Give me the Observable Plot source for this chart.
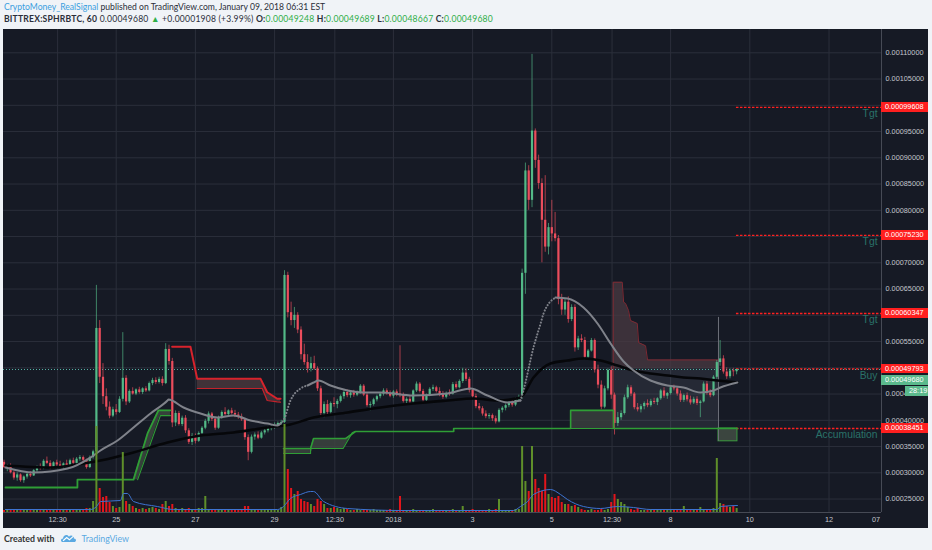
<!DOCTYPE html>
<html><head><meta charset="utf-8">
<script src="https://cdn.jsdelivr.net/npm/d3@7"></script>
<script src="https://cdn.jsdelivr.net/npm/@observablehq/plot@0.6"></script>
<style>
html,body{margin:0;padding:0}
body{background:#f0f3f7;width:932px;height:550px;overflow:hidden;position:relative;font-family:Lato,"Liberation Sans",sans-serif;color:#2a2e39}
#h1{position:absolute;left:4px;top:2px;font-size:8.6px;white-space:nowrap}
#h2{position:absolute;left:4px;top:13.5px;font-size:8.6px;letter-spacing:0.2px;white-space:nowrap}
#h2 b{font-weight:700}
.g{color:#2fae48}
#chart{position:absolute;left:3px;top:29px;width:925px;height:499px;background:#161a25;overflow:hidden}
#chart svg{position:absolute;left:0;top:0}
.bx{position:absolute;height:9.7px;line-height:9.7px;font:7.3px "Liberation Sans",Arial,sans-serif;color:#fff;padding-left:4px;box-sizing:border-box;white-space:nowrap}
#ft{position:absolute;left:4px;top:532.5px;font-size:8.8px;white-space:nowrap;display:flex;align-items:center}
</style></head>
<body>
<div id="h1"><span style="color:#3b9fe0">CryptoMoney_RealSignal</span> published on TradingView.com, January 09, 2018 06:31 EST</div>
<div id="h2"><b>BITTREX:SPHRBTC, 60</b> 0.00049680 <span class="g">▲</span> +0.00001908 (+3.99%) <b>O:</b><span class="g">0.00049248</span> <b>H:</b><span class="g">0.00049689</span> <b>L:</b><span class="g">0.00048667</span> <b>C:</b><span class="g">0.00049680</span></div>
<div id="chart"></div>
<div id="ft"><b style="color:#333">Created with</b>
<svg width="17" height="10" viewBox="0 0 18 11" style="margin:0 4px 0 6px"><path d="M3 10 C0 10 0 6 3 6 C3 2 8 1 9.5 4 C11 2 15 2.5 15 6 C18 6 18 10 15 10 Z" fill="#5aa9e2"/><path d="M3 8.5 L7 5 L10 7.5 L14.5 3.5" stroke="#fff" stroke-width="1.3" fill="none"/></svg>
<span style="color:#5aa9e2">TradingView</span></div>
<script>
// ---------------- data (prices in satoshi = 1e-8 BTC, time in hours from Dec 22 00:00) ----------------
const startHour = 4, stepHours = 2;
const ohlc = [
[32000,32400,30800,31000],[31000,31600,30200,31400],[31400,31700,29800,30000],[30000,30300,28600,29000],
[29000,30000,28400,29600],[29600,29800,28200,28500],[28500,29400,28000,29200],[29200,29900,28800,29700],
[29700,30200,29100,29400],[29400,30600,29300,30400],[30400,31300,30100,31000],[31000,31700,30500,30800],
[30800,32500,30600,32200],[32200,33000,31600,31800],[31800,32300,30600,31000],[31000,32100,30800,31900],
[31900,32400,31200,31500],[31500,32200,30900,31100],[31100,31900,30700,31700],[31700,32400,31300,31400],
[31400,32600,31200,32300],[32300,32800,31600,31800],[31800,32900,31600,32600],[32600,33300,32200,32900],
[32900,33200,32000,32400],[32400,32600,30700,31000],[31000,33200,30800,32900],[32900,34300,32600,34000],
[34000,65700,33800,57500],[57500,59000,47000,48200],[48200,50800,43000,44500],[44500,46000,41800,42500],
[42500,43500,40300,40800],[40800,42500,40500,42000],[42000,43000,41000,41500],[41500,44500,41300,44000],
[44000,56700,43500,48000],[48000,48500,42800,43500],[43500,45800,43200,45500],[45500,46200,44800,45000],
[45000,46000,44700,45800],[45800,46300,45000,45300],[45300,46200,44900,46000],[46000,46400,45300,45600],
[45600,47300,45400,47000],[47000,48000,46600,47600],[47600,48100,46800,47200],[47200,48200,46900,47800],
[47800,48300,46500,47000],[47000,54600,46800,53500],[53500,54300,50500,51200],[51200,51800,38600,39500],
[39500,41800,38800,41300],[41300,41700,38900,39200],[39200,40800,38800,40400],[40400,40900,37500,38000],
[38000,38400,35400,35800],[35800,37500,35200,37000],[37000,37400,35500,36000],[36000,37800,35800,37500],
[37500,38800,37200,38500],[38500,40200,38200,39800],[39800,41600,39300,41200],[41200,41500,39800,40200],
[40200,40600,38100,38500],[38500,40800,38300,40500],[40500,41800,40200,41500],[41500,42400,40800,41100],
[41100,42000,40700,41800],[41800,42300,41000,41300],[41300,41900,40500,41000],[41000,41500,40200,40600],
[40600,41200,39800,40100],[40100,40400,36200,36700],[36700,37200,32300,33900],[33900,37200,33600,36800],
[36800,37600,36200,37200],[37200,37800,36300,36600],[36600,37900,36400,37600],[37600,38400,37200,38000],
[38000,38800,37600,38400],[38400,39000,38000,38700],[38700,39500,38300,39000],[39000,39700,38600,39400],
[39400,40000,38900,39600],[39600,68500,39400,67600],[67600,68200,59500,60500],[60500,62500,58000,59000],
[59000,61500,57500,60000],[60000,60500,56500,57200],[57200,57800,51500,52500],[52500,54500,50500,51000],
[51000,52500,49000,49800],[49800,52000,49200,50800],[50800,52200,49500,49800],[49800,50200,45500,46000],
[46000,46500,40500,41300],[41300,43500,40500,43000],[43000,43800,41000,41500],[41500,43500,41200,43200],
[43200,44300,42500,43000],[43000,44000,42200,43600],[43600,44800,43300,44500],[44500,45600,44000,45300],
[45300,45800,44300,44700],[44700,45500,44200,45200],[45200,45700,44400,44800],[44800,45600,44500,45300],
[45300,46800,45000,46500],[46500,46800,44500,44800],[44800,45200,42500,42800],[42800,43500,41800,43000],
[43000,44200,42700,43900],[43900,44800,43500,44500],[44500,45300,44100,45000],[45000,46000,44600,45600],
[45600,46000,44800,45100],[45100,45600,44300,44600],[44600,45700,44200,45400],[45400,45800,44500,45000],
[45000,54200,44300,44700],[44700,45200,43300,43600],[43600,44300,43000,44000],[44000,44500,43200,43500],
[43500,45800,43300,45600],[45600,47300,45300,46900],[46900,47200,45200,45500],[45500,45900,43400,43800],
[43800,45000,43500,44800],[44800,46200,44500,45900],[45900,46700,45500,46200],[46200,46500,45200,45500],
[45500,46200,44500,44900],[44900,45500,44000,44400],[44400,45400,44100,45100],[45100,45800,44600,45000],
[45000,47200,44800,46800],[46800,47300,45900,46200],[46200,47700,46000,47400],[47400,49900,47000,49000],
[49000,49800,47400,47800],[47800,48200,45200,45700],[45700,46000,44200,44500],[44500,45000,42200,42600],
[42600,43200,41800,42200],[42200,42600,40800,41200],[41200,41800,40300,40700],[40700,41300,40200,40900],
[40900,41200,39800,40300],[40300,40800,39300,39700],[39700,42200,39500,41900],[41900,42600,41400,42300],
[42300,43100,41800,42800],[42800,43600,42400,43300],[43300,43800,42500,42900],[42900,44300,42600,43900],
[43900,44800,43500,44400],[44400,68800,44000,68000],[68000,89000,64000,87500],[87500,88500,80000,81900],
[81900,109700,80500,95100],[95100,95500,88000,89500],[89500,90500,84000,85100],[85100,86000,70000,78100],
[78100,86600,72000,73000],[73000,77500,71500,76700],[76700,81900,74000,75500],[75500,79600,74000,74600],
[74600,75200,62000,63000],[63000,64000,60000,61000],[61000,63000,60000,62500],[62500,63500,58500,59200],
[59200,62000,58800,61500],[61500,62000,53000,53800],[53800,56000,53300,55500],[55500,56300,54800,55200],
[55200,55800,51500,52000],[52000,53500,51500,53200],[53200,55600,53000,55200],[55200,55500,49000,49600],
[49600,50500,46000,46700],[46700,47500,42000,42500],[42500,46500,42200,46000],[46000,49800,45600,49500],
[49500,50200,44000,44800],[44800,45200,37200,39400],[39400,41500,38800,40500],[40500,41800,40000,41300],
[41300,44800,41000,44300],[44300,46700,44000,46200],[46200,46600,44500,45000],[45000,45300,42000,42400],
[42400,43200,41600,42000],[42000,43000,41400,42600],[42600,43500,42000,43200],[43200,43900,42400,42800],
[42800,44000,42500,43600],[43600,44200,43000,43400],[43400,44300,42800,44100],[44100,45900,43800,45600],
[45600,46200,44200,44600],[44600,45300,44000,45100],[45100,46500,44800,46200],[46200,46700,45600,46000],
[46000,46300,44600,45000],[45000,45600,43400,43800],[43800,45000,43400,44700],[44700,45200,43500,43900],
[43900,44600,42900,43300],[43300,44400,43000,44000],[44000,44500,42800,43200],[43200,43800,40500,43500],
[43500,47300,43300,46900],[46900,47400,44800,45200],[45200,45800,44300,44700],[44700,48500,44500,48200],
[48200,51400,47800,51000],[51000,55200,50300,51700],[51700,52300,48800,49200],[49200,50000,47800,48300],
[48300,49800,47900,49400],[49400,49900,48300,49248],[49248,49689,48667,49680]
];
// volume (BTC) per candle
const volume = [
1,1.5,1,1,1.5,1,1,1,1.5,1,1,1,1.5,1,1,1,1,1.5,1,1,1,1.5,1,1,1.5,2,2,
5.5,43,12,7.5,8,5,3,2,2.5,30,5.5,4,3,
2,1.5,2,1.5,2,2.5,2,1.5,
4,5.5,3,4,
2,1.5,2,1.5,2,1.5,1.5,2,
2,8,
1,1,1.5,1,1,1,1.5,1,1,1,1,
3,3,
1.5,1,1,1,1,1,1.5,1,1,
2.5,
44,21.5,12,9,10.5,6.5,5.5,5,4,3,6.5,5.5,4,
2,2,2.5,2,1.5,2,1.5,
1,1,1.5,1,1,1,1,1.5,1,1,1,1,1.5,1,1,
8,
1,1,1,1.5,1,1,1,1,1,1.5,1,1,1,1,1,1.5,1,1,
3,
1,1,1.5,1,1,1,1,1.5,1,
1.5,6.5,
1,1,1,1,1.5,1.5,
33,15.5,10.5,33,16.5,12,10.5,19,9,7.5,7,8,5,4,4,3,3.5,2.5,
1.5,1,1,1.5,1,1,1.5,1,
1.5,5,9,6.5,5,4,2.5,
1.5,1,2,1,1,1,1.5,1,1,1.5,1,1,1,1,1.5,1,
3,
1,1,1,1,
2.5,
1.5,1,1,
2,
27,4.5,4,3,2.5,3,2
];
const volumeMA = [[4.9,1.5],[56.4,1.5],[60.1,3],[62.5,5.5],[74.6,6],[76.4,9.5],[78.8,9.5],[82.5,5.5],[97.0,3],[106.7,1.5],
[169.8,1.5],[173.4,3],[177.6,7],[183.7,9],[189.8,10.5],[191.6,10.5],[197.7,5.5],[212.2,2],[244.3,1],[312.8,1],[317.0,3],
[321.3,5.5],[324.9,9],[335.2,11.5],[341.3,9],[345.5,6.5],[355.2,3],[365.5,2],[375.8,3],[385.5,2.5],[395.8,1.5],[436.4,1.5],[438.2,3],[448.5,3.5]];
// grey moving average (solid parts and dotted parts)
const maGray1 = [[4.9,31010],[21.9,30050],[42.5,30810],[56.4,32910],[62.5,34250],[72.8,36150],[82.5,38630],[92.8,41300],[103.1,43770],[103.7,43960],
[112.8,42440],[123.1,41300],[133.4,40530],[143.1,40920],[153.4,39960],[163.7,39390],[169.8,39010],[171.6,39390]];
const maGrayDots1 = [[171.6,39390],[173.4,39960],[177.6,43770],[183.7,46060],[188.0,46630]];
const maGray2 = [[188.0,46630],[191.6,47200],[194.6,47580],[201.9,46630],[212.2,45680],[221.9,45300],[232.2,45300],[252.2,44730],
[272.8,45110],[286.7,46060],[297.0,44730],[309.2,43390],[317.0,43770]];
const maGrayDots2 = [[317.0,43770],[318.8,45680],[324.9,53870],[329.2,58440],[331.0,60340],[338.2,63390]];
const maGray3 = [[338.2,63390],[345.5,63200],[355.2,61490],[363.7,58440],[371.6,54630],[379.5,51200],[385.5,49490],[395.8,47580],
[406.1,46630],[415.8,46250],[426.1,45300],[434.0,45680],[438.2,46250],[448.5,47200]];
// black moving average
const maBlack = [[4.9,31390],[32.2,31010],[52.2,31770],[62.5,32340],[82.5,33870],[103.1,35770],[123.1,37090],[143.1,37680],[163.7,38630],
[177.6,39200],[191.6,40530],[212.2,41490],[232.2,42440],[252.2,43200],[272.8,43770],[288.5,44150],[303.1,43770],[317.0,44340],
[324.9,48150],[335.2,50820],[345.5,51390],[355.2,51770],[365.5,51390],[375.8,50440],[385.5,49490],[395.8,48920],[406.1,48540],
[415.8,48150],[426.1,47960],[436.4,47580],[448.5,47200]];
// resistance (red) and support (green) channels
const res1Upper = [[105.9,54000],[117.0,54000],[121.1,47900],[159.5,47900],[163.5,45350],[169.6,44100],[171.6,44100]];
const res1Lower = [[121.1,46060],[160.5,46060],[163.5,43770],[169.6,43500],[171.6,43450]];
const res1Band = [[121.1,47900,46060],[159.5,47900,46060],[160.5,47200,46060],[163.5,45350,43770],[169.6,44100,43500],[171.6,44100,43450]];
const sup1Upper = [[4.9,27200],[48.5,27200],[48.5,28700],[82.5,28700],[91.0,37500],[97.6,41900],[104.9,41900]];
const sup1Lower = [[85.0,28700],[98.8,40900],[104.9,40900]];
const sup1Band = [[82.5,28700,28700],[85.0,31300,28700],[91.0,37500,34000],[97.6,41900,40000],[98.8,41900,40900],[104.9,41900,40900]];
const sup2Upper = [[173.4,34630],[189.8,34630],[191.6,36530],[211.0,36530],[217.0,37870],[276.5,37870],[276.5,38451],[347.4,38451],
[347.4,41900],[373.4,41900],[373.4,38451],[448.5,38451]];
const sup2Lower = [[173.4,33680],[189.8,33680],[189.8,34630],[209.5,34630],[215.2,37680],[217.0,37870],[276.5,37870],[276.5,38451],[448.5,38451]];
const sup2BandA = [[173.4,34630,33680],[189.8,34630,33680],[191.6,36530,34630],[209.5,36530,34630],[211.0,36530,35400],[215.2,37500,37680]];
const sup2BandB = [[347.4,41900,38451],[373.4,41900,38451]];
const res2Top = [[373.2,38451],[373.2,66300],[378.7,66300],[379.5,62500],[380.7,62250],[382.5,60900],[383.7,59000],[387.8,58440],
[388.6,54800],[392.8,54200],[394.0,51500],[437.0,51500]];
const res2Floor = 49800;
const rangeBox = {t1:373.2, t2:437.0, top:49800, bottom:38451};
const accBox = {t1:437.0, t2:448.5, top:38451, bottom:36000};
const boxEdge = {t:437.0, lo:36000, hi:59600};
// horizontal levels
const levels = [
  {price:99608, label:"Tgt"}, {price:75230, label:"Tgt"}, {price:60347, label:"Tgt"},
  {price:49793, label:"Buy"}, {price:38451, label:"Accumulation"}
];
const targetFromHour = 447.9;
const countdown = "28:19";
// axes
const timeTicks = [36.5, 72, 120, 168, 204.5, 240, 288, 336, 372.5, 408, 456, 504, 532.5];
const timeLabels = ["12:30","25","27","29","12:30","2018","3","5","12:30","8","10","12","07"];
const priceTicks = [25000,30000,35000,40000,45000,50000,55000,60000,65000,70000,75000,80000,85000,90000,95000,100000,105000,110000];
const priceTicksCovered = [50000,60000,75000,100000]; // labels hidden behind the level tags
const xDomain = [3.7, 535.8];
const yDomain = [22440, 114440];

// ---------------- drawing ----------------
const UP = "#53b987", DN = "#eb4d5c", VUP = "#5f8f2a", VDN = "#e3151b";
const P = v => v / 1e8;
const W = 925, H = 499, MR = 47, MB = 16;
const candles = ohlc.map(([o,h,l,c], i) => ({t: startHour + i*stepHours, o:P(o), h:P(h), l:P(l), c:P(c), up: c >= o}));
const pts = a => a.map(([t,p]) => ({t, p:P(p)}));
const band = a => a.map(([t,hi,lo]) => ({t, hi:P(hi), lo:P(lo)}));
const labelOf = new Map(timeTicks.map((t,i) => [t, timeLabels[i]]));
const lastClose = P(ohlc[ohlc.length-1][3]);
const axisTicks = priceTicks.filter(v => !priceTicksCovered.includes(v)).map(P);

const gray = {x:"t", y:"p", stroke:"#7f828a", strokeWidth:2, curve:"monotone-x"};
const dotted = {...gray, strokeDasharray:"0.1,3", strokeLinecap:"round", strokeWidth:2.1};

const main = Plot.plot({
  width: W, height: H, marginTop: 0, marginLeft: 0, marginRight: MR, marginBottom: MB,
  style: {background:"transparent", color:"#c3c6cd", fontFamily:"'Liberation Sans', Arial, sans-serif", fontSize:"7.3px", overflow:"visible"},
  x: {domain: xDomain, axis: null},
  y: {domain: yDomain.map(P), axis: null},
  marks: [
    Plot.gridY(priceTicks.map(P), {stroke:"#2b2f3b", strokeOpacity:1}),
    Plot.gridX(timeTicks.slice(0,-1), {stroke:"#2b2f3b", strokeOpacity:1}),
    Plot.ruleX([xDomain[1]], {stroke:"#464a55"}),
    Plot.ruleY([P(yDomain[0])], {stroke:"#464a55"}),
    Plot.axisX(timeTicks, {tickSize:0, tickPadding:4, tickFormat: d => labelOf.get(d), fill:"#c3c6cd", label:null}),
    Plot.axisY(axisTicks, {anchor:"right", tickSize:0, tickPadding:4, tickFormat: d => d.toFixed(8), fill:"#c3c6cd", label:null}),
    // fills
    Plot.areaY(band(res1Band), {x:"t", y1:"lo", y2:"hi", fill:"#45353b", fillOpacity:0.9}),
    Plot.areaY(band(sup1Band), {x:"t", y1:"lo", y2:"hi", fill:"#3e4a41", fillOpacity:0.8}),
    Plot.areaY(band(sup2BandA), {x:"t", y1:"lo", y2:"hi", fill:"#3e4641", fillOpacity:0.8}),
    Plot.areaY(band(sup2BandB), {x:"t", y1:"lo", y2:"hi", fill:"#3b403f", fillOpacity:0.8}),
    Plot.areaY(pts(res2Top).slice(1), {x:"t", y1:P(res2Floor), y2:"p", fill:"#4a3a42", fillOpacity:0.75}),
    Plot.rect([rangeBox], {x1:"t1", x2:"t2", y1: d=>P(d.bottom), y2: d=>P(d.top), fill:"#8e94a0", fillOpacity:0.13}),
    Plot.rect([accBox], {x1:"t1", x2:"t2", y1: d=>P(d.bottom), y2: d=>P(d.top), fill:"#3f4a42", fillOpacity:0.9, stroke:"#3a9a3e", strokeWidth:1}),
    Plot.line(pts(res2Top), {x:"t", y:"p", stroke:"#7e2a33", strokeWidth:1}),
    Plot.ruleX([boxEdge], {x:"t", y1: d=>P(d.lo), y2: d=>P(d.hi), stroke:"#6d717a", strokeWidth:1}),
    // price line & targets
    Plot.ruleY([lastClose], {stroke:"#56b3a5", strokeDasharray:"1,2", strokeWidth:1}),
    Plot.ruleY(levels, {y: d=>P(d.price), x1: targetFromHour, x2: xDomain[1], stroke:"#ff2020", strokeDasharray:"2.5,1.5", strokeWidth:1.4}),
    Plot.text(levels, {x: xDomain[1], y: d=>P(d.price), text:"label", textAnchor:"end", dx:-4, dy:6.5, fill:"#2a7269", fontSize:10.3, fontFamily:"'Liberation Sans', Arial, sans-serif"}),
    // candles
    Plot.ruleX(candles, {x:"t", y1:"l", y2:"h", stroke: d => d.up ? UP : DN, strokeWidth:0.8, strokeOpacity:0.85}),
    Plot.ruleX(candles, {x:"t", y1:"o", y2:"c", stroke: d => d.up ? UP : DN, strokeWidth:2.2}),
    // channels
    Plot.line(pts(sup1Upper), {x:"t", y:"p", stroke:"#2f9e36", strokeWidth:1.8}),
    Plot.line(pts(sup1Lower), {x:"t", y:"p", stroke:"#2f9e36", strokeWidth:1.1}),
    Plot.line(pts(sup2Upper), {x:"t", y:"p", stroke:"#2f9e36", strokeWidth:1.6}),
    Plot.line(pts(sup2Lower), {x:"t", y:"p", stroke:"#2f9e36", strokeWidth:1.1}),
    Plot.line(pts(res1Upper), {x:"t", y:"p", stroke:"#d8232c", strokeWidth:2}),
    Plot.line(pts(res1Lower), {x:"t", y:"p", stroke:"#c4222b", strokeWidth:1.2}),
    // moving averages
    Plot.line(pts(maBlack), {x:"t", y:"p", stroke:"#06070a", strokeWidth:2.6, curve:"monotone-x"}),
    Plot.line(pts(maGray1), gray),
    Plot.line(pts(maGray2), gray),
    Plot.line(pts(maGray3), gray),
    Plot.line(pts(maGrayDots1), dotted),
    Plot.line(pts(maGrayDots2), dotted)
  ]
});

const vol = Plot.plot({
  width: W, height: H, marginTop: 0, marginLeft: 0, marginRight: MR, marginBottom: MB,
  style: {background:"transparent", overflow:"visible"},
  x: {domain: xDomain, axis: null},
  y: {domain: [0, 44], range: [H - MB, H - MB - 88], axis: null},
  marks: [
    Plot.ruleX(candles.map((d,i) => ({t:d.t, v:volume[i], up:d.up})), {x:"t", y1:0, y2:"v", stroke: d => d.up ? VUP : VDN, strokeWidth:2}),
    Plot.line(volumeMA.map(([t,v]) => ({t, v})), {x:"t", y:"v", stroke:"#3d73d1", strokeWidth:1, curve:"monotone-x"})
  ]
});

const chart = document.getElementById("chart");
chart.appendChild(main);
chart.appendChild(vol);

const ys = main.scale("y");
function box(price, text, bg, offset, left, width) {
  const d = document.createElement("div");
  d.className = "bx";
  d.textContent = text;
  d.style.background = bg;
  d.style.left = left + "px";
  d.style.width = width + "px";
  d.style.top = (ys.apply(P(price)) + offset - 4.85) + "px";
  chart.appendChild(d);
}
const axisLeft = W - MR;
levels.forEach(l => box(l.price, (l.price/1e8).toFixed(8), "#ff1f1f", 0, axisLeft, W - axisLeft));
const lastRaw = ohlc[ohlc.length-1][3];
box(lastRaw, (lastRaw/1e8).toFixed(8), "#5bb98c", 11, axisLeft, W - axisLeft);
box(lastRaw, countdown, "#5bb98c", 21.7, axisLeft + 24, W - axisLeft - 24);
</script>
</body></html>
